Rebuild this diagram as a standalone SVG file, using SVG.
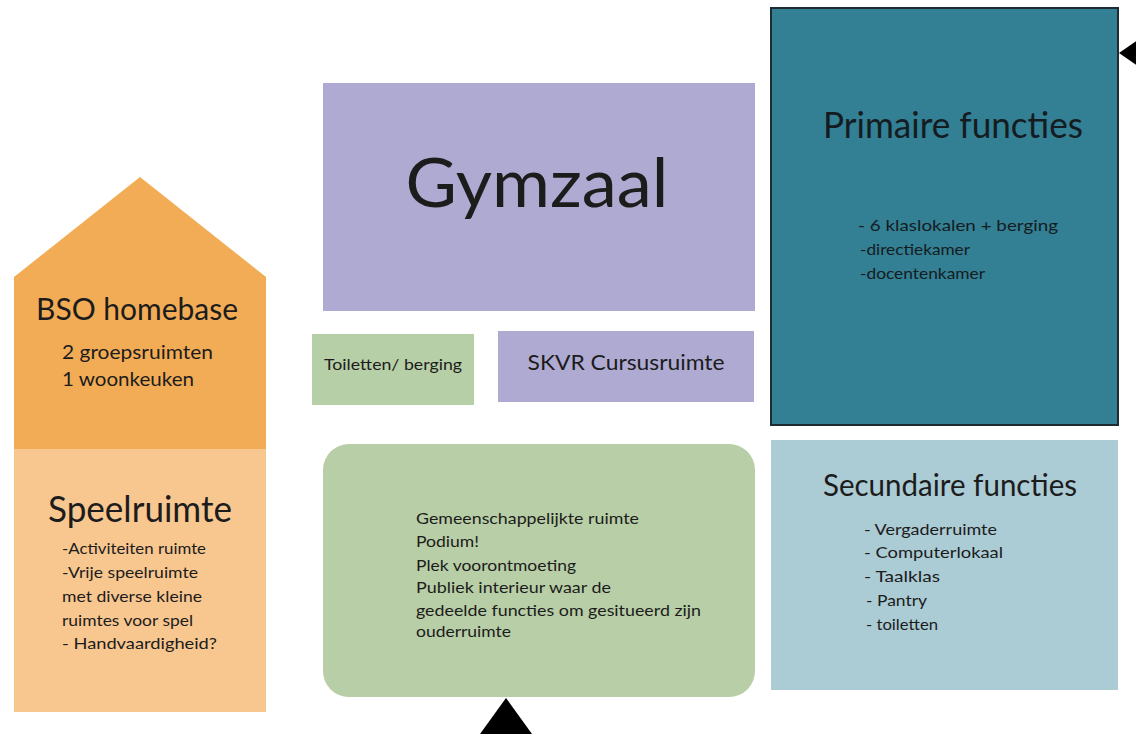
<svg xmlns="http://www.w3.org/2000/svg" width="1136" height="734" viewBox="0 0 1136 734">
<style>
text{font-family:"Lato","Noto Sans",sans-serif;fill:#1c1c1c}
.t{fill:#141c22}
.s{font-size:16px}
</style>
<rect width="1136" height="734" fill="#ffffff"/>
<g id="gymzaal">
<rect x="323" y="83" width="432" height="228" fill="#afaad2"/>
<text x="537" y="207" font-size="68" text-anchor="middle" textLength="263" lengthAdjust="spacingAndGlyphs">Gymzaal</text>
</g>
<g id="primaire">
<rect x="771" y="8" width="347" height="417" fill="#337f93" stroke="#1e2b31" stroke-width="2"/>
<text class="t" x="953" y="138" font-size="37" text-anchor="middle" textLength="260" lengthAdjust="spacingAndGlyphs">Primaire functies</text>
<text class="t s" x="858" y="231" font-size="17" textLength="200" lengthAdjust="spacingAndGlyphs">- 6 klaslokalen + berging</text>
<text class="t s" x="860" y="255" textLength="110" lengthAdjust="spacingAndGlyphs">-directiekamer</text>
<text class="t s" x="860" y="279" textLength="125" lengthAdjust="spacingAndGlyphs">-docentenkamer</text>
</g>
<g id="bso">
<polygon points="140,177 266,277 266,449 14,449 14,277" fill="#f2ac56"/>
<text x="137" y="320" font-size="30" text-anchor="middle" textLength="202" lengthAdjust="spacingAndGlyphs">BSO homebase</text>
<text x="62" y="359" font-size="19" textLength="151" lengthAdjust="spacingAndGlyphs">2 groepsruimten</text>
<text x="62" y="386" font-size="19" textLength="132" lengthAdjust="spacingAndGlyphs">1 woonkeuken</text>
</g>
<g id="speelruimte">
<rect x="14" y="449" width="252" height="263" fill="#f8c790"/>
<text x="140" y="522" font-size="36" text-anchor="middle" textLength="184" lengthAdjust="spacingAndGlyphs">Speelruimte</text>
<text class="s" x="62" y="554" textLength="144" lengthAdjust="spacingAndGlyphs">-Activiteiten ruimte</text>
<text class="s" x="62" y="578" textLength="136" lengthAdjust="spacingAndGlyphs">-Vrije speelruimte</text>
<text class="s" x="62" y="602" textLength="140" lengthAdjust="spacingAndGlyphs">met diverse kleine</text>
<text class="s" x="62" y="626" textLength="131" lengthAdjust="spacingAndGlyphs">ruimtes voor spel</text>
<text class="s" x="62" y="649" textLength="155" lengthAdjust="spacingAndGlyphs">- Handvaardigheid?</text>
</g>
<g id="toiletten">
<rect x="312" y="334" width="162" height="71" fill="#b7cfa6"/>
<text class="s" x="393" y="370" text-anchor="middle" textLength="138" lengthAdjust="spacingAndGlyphs">Toiletten/ berging</text>
</g>
<g id="skvr">
<rect x="498" y="331" width="256" height="71" fill="#afaad2"/>
<text x="626" y="370" font-size="22" text-anchor="middle" textLength="197" lengthAdjust="spacingAndGlyphs">SKVR Cursusruimte</text>
</g>
<g id="gemeenschappelijk">
<rect x="323" y="444" width="432" height="253" rx="26" fill="#b8cea6"/>
<text class="s" x="416" y="524" textLength="223" lengthAdjust="spacingAndGlyphs">Gemeenschappelijkte ruimte</text>
<text class="s" x="416" y="547" textLength="63" lengthAdjust="spacingAndGlyphs">Podium!</text>
<text class="s" x="416" y="571" textLength="160" lengthAdjust="spacingAndGlyphs">Plek voorontmoeting</text>
<text class="s" x="416" y="593" textLength="195" lengthAdjust="spacingAndGlyphs">Publiek interieur waar de</text>
<text class="s" x="416" y="616" textLength="285" lengthAdjust="spacingAndGlyphs">gedeelde functies om gesitueerd zijn</text>
<text class="s" x="416" y="637" textLength="95" lengthAdjust="spacingAndGlyphs">ouderruimte</text>
</g>
<g id="secundaire">
<rect x="771" y="440" width="347" height="250" fill="#abcbd5"/>
<text x="950" y="496" font-size="31" text-anchor="middle" textLength="254" lengthAdjust="spacingAndGlyphs">Secundaire functies</text>
<text class="s" x="864" y="535" textLength="133" lengthAdjust="spacingAndGlyphs">- Vergaderruimte</text>
<text class="s" x="864" y="558" textLength="139" lengthAdjust="spacingAndGlyphs">- Computerlokaal</text>
<text class="s" x="864" y="582" textLength="76" lengthAdjust="spacingAndGlyphs">- Taalklas</text>
<text class="s" x="866" y="606" textLength="61" lengthAdjust="spacingAndGlyphs">- Pantry</text>
<text class="s" x="866" y="630" textLength="72" lengthAdjust="spacingAndGlyphs">- toiletten</text>
</g>
<g id="connectors">
<polygon points="1119,53 1138,40 1138,66" fill="#000000"/>
<polygon points="506,698 480,734 532,734" fill="#000000"/>
</g>
</svg>
